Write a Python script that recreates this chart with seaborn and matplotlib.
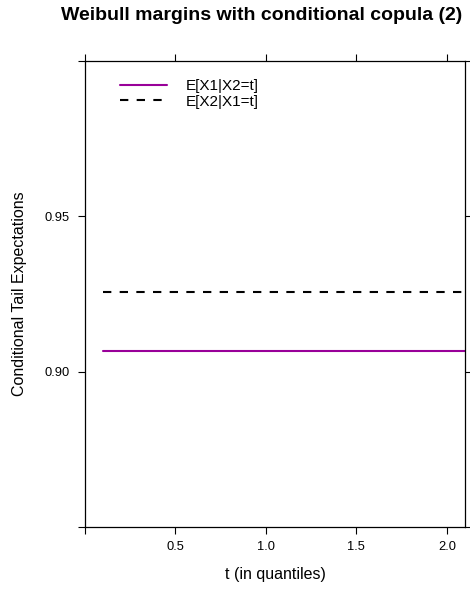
import matplotlib
matplotlib.use("Agg")
import matplotlib.pyplot as plt
import seaborn as sns
import pandas as pd
from matplotlib.lines import Line2D

# data
t_vals = [0.1, 2.1]
ce_x1_given_x2 = [0.9067, 0.9067]
ce_x2_given_x1 = [0.9256, 0.9256]
series_labels = ["E[X1|X2=t]", "E[X2|X1=t]"]
x_ticks = [0.0, 0.5, 1.0, 1.5, 2.0]
x_ticklabels = ["", "0.5", "1.0", "1.5", "2.0"]
y_ticks = [0.85, 0.90, 0.95, 1.00]
y_ticklabels = ["", "0.90", "0.95", ""]

sns.set_style("white")
plt.rcParams['font.family'] = ['Liberation Sans', 'DejaVu Sans']
plt.rcParams['text.color'] = 'black'
plt.rcParams['axes.labelcolor'] = 'black'
plt.rcParams['xtick.color'] = 'black'
plt.rcParams['ytick.color'] = 'black'

df = pd.DataFrame({
    "t": t_vals + t_vals,
    "value": ce_x1_given_x2 + ce_x2_given_x1,
    "series": [series_labels[0]] * len(t_vals) + [series_labels[1]] * len(t_vals),
})

fig = plt.figure(figsize=(4.7, 5.9), dpi=100)
ax = fig.add_axes([85/470, 1-527/590, 380/470, 466/590])

sns.lineplot(data=df, x="t", y="value", hue="series", style="series",
             palette={series_labels[0]: "#990099", series_labels[1]: "black"},
             dashes={series_labels[0]: "", series_labels[1]: (4, 4)},
             linewidth=1.5, ax=ax, legend=False)

ax.set_xlim(0.0, 2.1)
ax.set_ylim(0.85, 1.0)
ax.set_xticks(x_ticks)
ax.set_xticklabels(x_ticklabels)
ax.set_yticks(y_ticks)
ax.set_yticklabels(y_ticklabels)
ax.tick_params(axis='both', which='both', direction='out', length=5, width=0.8,
               labelsize=9.3, top=True, right=True, bottom=True, left=True,
               labeltop=False, labelright=False, color='black', labelcolor='black')
ax.tick_params(axis='x', pad=5)
ax.tick_params(axis='y', pad=6)
for s in ax.spines.values():
    s.set_color('black')
    s.set_linewidth(0.9)
    s.set_visible(True)

ax.set_xlabel("t (in quantiles)", fontsize=11.5, color='black')
ax.set_ylabel("Conditional Tail Expectations", fontsize=11.5, color='black')
ax.xaxis.set_label_coords(0.5, (527-567)/466)
ax.yaxis.set_label_coords((27-85)/380, 0.5)
fig.text(262/470, 1-15/590, "Weibull margins with conditional copula (2)",
         ha='center', va='center', fontsize=14, fontweight='bold', color='black')

handles = [Line2D([], [], color="#990099", lw=1.5),
           Line2D([], [], color="black", lw=1.5, dashes=(4, 4))]
leg = ax.legend(handles, series_labels, loc='upper left',
                bbox_to_anchor=((120-85)/380, 1-(79-61)/466),
                frameon=False, fontsize=11, handlelength=3.1, handletextpad=1.2,
                labelspacing=0.1, borderaxespad=0, borderpad=0)
for txt in leg.get_texts():
    txt.set_color('black')

fig.savefig("out.png", dpi=100)
